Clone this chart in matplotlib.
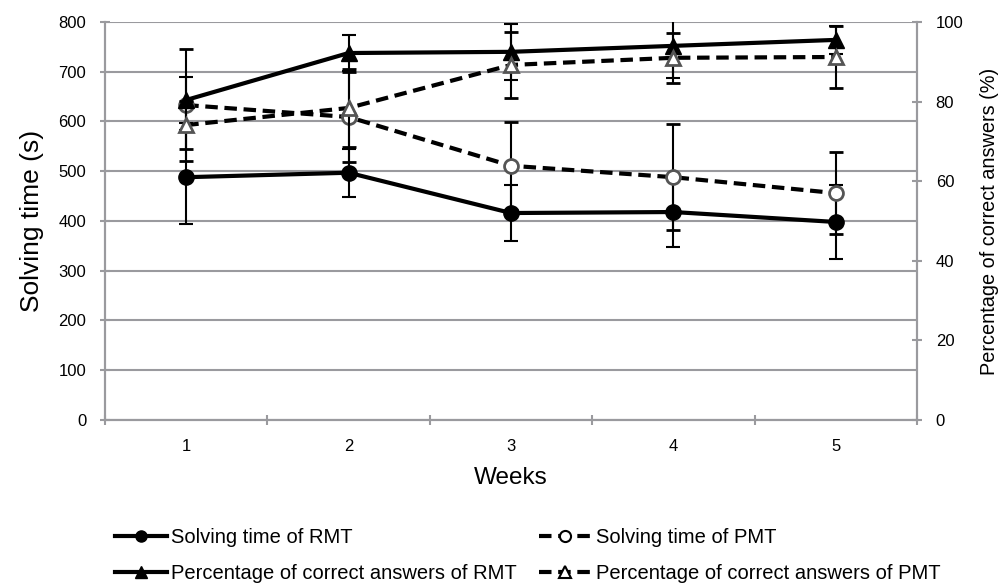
import matplotlib.pyplot as plt
from matplotlib.lines import Line2D

# datos
semanas = [1, 2, 3, 4, 5]
tiempo_rmt = [488, 497, 416, 418, 398]
tiempo_rmt_err = [95, 48, 56, 70, 74]
tiempo_pmt = [633, 609, 511, 488, 456]
tiempo_pmt_err = [113, 90, 88, 107, 83]
pct_rmt = [80.4, 92.2, 92.5, 94.0, 95.5]
pct_rmt_err = [5.8, 4.5, 7.0, 8.0, 3.5]
pct_pmt = [74.1, 78.4, 89.2, 91.0, 91.2]
pct_pmt_err = [6.0, 9.8, 8.3, 6.3, 7.8]

etiquetas = ["Solving time of RMT", "Percentage of correct answers of RMT",
             "Solving time of PMT", "Percentage of correct answers of PMT"]

plt.rcParams['font.family'] = ['Liberation Sans', 'DejaVu Sans']

gris = '#9a9a9e'
guiones = (0, (3, 1.6))

fig = plt.figure(figsize=(10, 5.83), dpi=100)
ax = fig.add_axes([0.105, 0.2796, 0.812, 0.6827])
ax2 = ax.twinx()

err_kw = dict(ecolor='black', elinewidth=1.5, capsize=5, capthick=1.5)

ax.errorbar(semanas, tiempo_rmt, yerr=tiempo_rmt_err, color='black', lw=3,
            marker='o', ms=11, mfc='black', mec='black', zorder=3, **err_kw)
ax.errorbar(semanas, tiempo_pmt, yerr=tiempo_pmt_err, color='black', lw=3,
            ls=guiones, marker='o', ms=10, mfc='white', mec='#555555', mew=2,
            zorder=3, **err_kw)
ax2.errorbar(semanas, pct_rmt, yerr=pct_rmt_err, color='black', lw=3,
             marker='^', ms=11, mfc='black', mec='black', zorder=3, **err_kw)
ax2.errorbar(semanas, pct_pmt, yerr=pct_pmt_err, color='black', lw=3,
             ls=guiones, marker='^', ms=10, mfc='white', mec='#555555', mew=2,
             zorder=3, **err_kw)

ax.set_xlim(0.5, 5.5)
ax.set_ylim(0, 800)
ax2.set_ylim(0, 100)
ax.set_yticks(range(0, 801, 100))
ax2.set_yticks(range(0, 101, 20))
ax.set_xticks(semanas)
ax.set_xticks([0.5, 1.5, 2.5, 3.5, 4.5, 5.5], minor=True)

ax.grid(axis='y', color=gris, lw=1.5)
ax.set_axisbelow(True)

for a in (ax, ax2):
    a.spines['top'].set_visible(False)
    for lado in ('left', 'right', 'bottom'):
        a.spines[lado].set_color(gris)
        a.spines[lado].set_linewidth(1.5)

ax.tick_params(axis='y', direction='inout', length=7, width=1.5, color=gris,
               labelsize=12, pad=10)
ax2.tick_params(axis='y', direction='inout', length=7, width=1.5, color=gris,
                labelsize=12, pad=10)
ax.tick_params(axis='x', which='major', length=0, labelsize=12, pad=14)
ax.tick_params(axis='x', which='minor', direction='inout', length=7,
               width=1.5, color=gris)

ax.set_xlabel("Weeks", fontsize=17.5, labelpad=9)
ax.set_ylabel("Solving time (s)", fontsize=19, labelpad=10)
ax2.set_ylabel("Percentage of correct answers (%)", fontsize=14.3, labelpad=12)

handles = [
    Line2D([], [], color='black', lw=3, marker='o', ms=8, mfc='black'),
    Line2D([], [], color='black', lw=3, marker='^', ms=8, mfc='black'),
    Line2D([], [], color='black', lw=3, ls=guiones, marker='o', ms=8,
           mfc='white', mec='black', mew=1.5),
    Line2D([], [], color='black', lw=3, ls=guiones, marker='^', ms=8,
           mfc='white', mec='black', mew=1.5),
]
fig.legend(handles, etiquetas, ncol=2, loc='upper left',
           bbox_to_anchor=(0.115, 0.0935), frameon=False, fontsize=14.5,
           handlelength=2.6, handletextpad=0.2, columnspacing=1.1,
           labelspacing=0.8, borderaxespad=0, borderpad=0)

fig.savefig("out.png", dpi=100)
